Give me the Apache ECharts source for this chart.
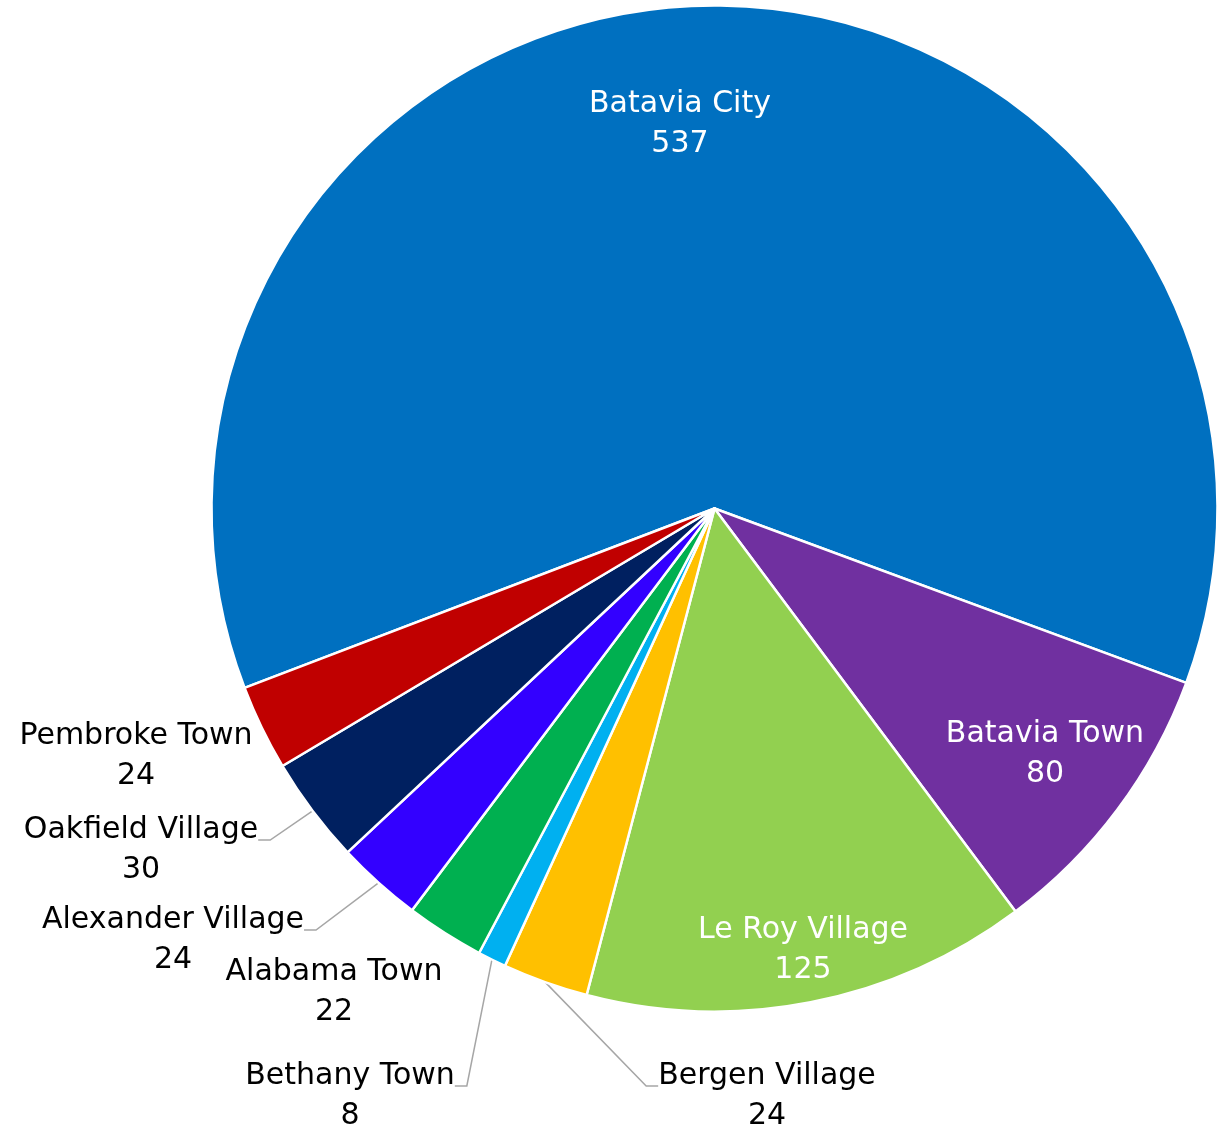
<!DOCTYPE html>
<html>
<head>
<meta charset="utf-8">
<title>Residents by municipality</title>
<script src="https://cdn.jsdelivr.net/npm/echarts@6/dist/echarts.min.js"></script>
<style>
  html, body { margin: 0; padding: 0; background: #ffffff; }
  #chart { width: 1221px; height: 1131px; }
</style>
</head>
<body>
<div id="chart"></div>
<script>
// Municipalities, listed clockwise from the start of the first slice
const municipalities = [
  'Batavia City', 'Batavia Town', 'Le Roy Village', 'Bergen Village',
  'Bethany Town', 'Alabama Town', 'Alexander Village', 'Oakfield Village',
  'Pembroke Town'
];
const counts = [537, 80, 125, 24, 8, 22, 24, 30, 24];

// Slice fill colours, same order as above
const sliceColors = [
  '#0070C0', '#7030A0', '#92D050', '#FFC000', '#00B0F0',
  '#00B050', '#3300FF', '#002060', '#C00000'
];

// Which labels sit on the slice and which ones get a leader line
const labelInside = [true, true, true, false, false, false, false, false, false];
const labelLeader = [false, false, false, true, true, false, true, true, false];

// Centre of each two-line label block (px)
const labelCenters = [
  [680, 124], [1045, 754], [803, 950], [767, 1096], [350, 1096],
  [334, 992], [173, 940], [141, 850], [136, 756]
];

const FONT = '"DejaVu Sans", "Liberation Sans", sans-serif';
// a short spacer line above outside labels lifts the leader's landing point
const SPACER = 20;

const pieData = municipalities.map((name, i) => ({
  name: name,
  value: counts[i],
  itemStyle: { color: sliceColors[i] },
  label: {
    position: labelInside[i] ? 'inside' : 'outside',
    color: labelInside[i] ? '#ffffff' : '#000000',
    formatter: labelInside[i] ? '{b}\n{c}' : '{gap| }\n{b}\n{c}'
  },
  labelLine: { show: labelLeader[i] }
}));

const chart = echarts.init(document.getElementById('chart'), null, { renderer: 'canvas' });

chart.setOption({
  backgroundColor: '#ffffff',
  animation: false,
  series: [{
    type: 'pie',
    center: [714.5, 508.5],
    radius: 503,
    startAngle: 200.9,
    clockwise: true,
    avoidLabelOverlap: false,
    data: pieData,
    itemStyle: { borderColor: '#ffffff', borderWidth: 2.5 },
    label: {
      show: true,
      fontFamily: FONT,
      fontSize: 30,
      lineHeight: 40,
      align: 'center',
      rich: {
        gap: { fontSize: 2, lineHeight: SPACER, height: SPACER }
      }
    },
    labelLine: {
      length: 10,
      length2: 12,
      lineStyle: { color: '#a6a6a6', width: 1.5 }
    },
    labelLayout: function (params) {
      const i = params.dataIndex;
      const c = labelCenters[i];
      const shift = labelInside[i] ? 0 : SPACER / 2;
      return { x: c[0], y: c[1] - shift, align: 'center', verticalAlign: 'middle' };
    },
    emphasis: { disabled: true }
  }]
});
</script>
</body>
</html>
